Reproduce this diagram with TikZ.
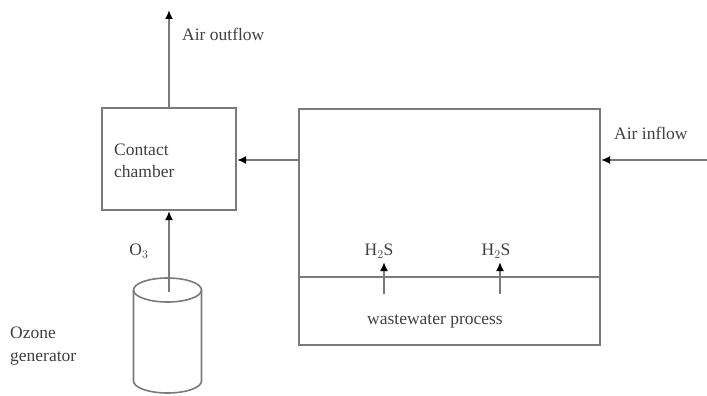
\documentclass[tikz,border=0pt]{standalone}
\usepackage{fontspec}
\setmainfont{Liberation Serif}
\usetikzlibrary{arrows.meta}
\definecolor{linegray}{HTML}{7A7A7A}
\tikzset{
  boxstyle/.style={draw=linegray, line width=2pt, inner sep=0pt},
  flow/.style={draw=linegray, line width=2pt, -{Latex[length=9pt,width=8pt,black]}},
  lbl/.style={font=\fontsize{17.5}{22.5}\selectfont, inner sep=0pt, text=black!75},
}
\begin{document}
\begin{tikzpicture}[x=1pt,y=-1pt]
\useasboundingbox (0,0) rectangle (707,396);
% contact chamber
\node[boxstyle, minimum width=134pt, minimum height=102pt] (cc) at (169,159) {};
\node[lbl, align=left, anchor=west] (cctext) at (114,161) {Contact\\chamber};
% big box
\node[boxstyle, minimum width=301pt, minimum height=236pt] (big) at (449.5,226.5) {};
\coordinate (wl) at (299,277);
\coordinate (wr) at (600,277);
\draw[draw=linegray, line width=2pt] (wl) -- (wr);
\node[lbl] (ww) at (435,321) {wastewater process};
% air outflow
\coordinate (outtop) at (169,10);
\draw[flow] (cc.north) -- (outtop);
\node[lbl, anchor=west] (aout) at (182,34) {Air outflow};
% big box to contact chamber
\draw[flow] (big.west |- 0,160) -- (cc.east |- 0,160);
% air inflow
\coordinate (inr) at (707,160);
\draw[flow] (inr) -- (big.east |- 0,160);
\node[lbl, anchor=west] (ain) at (614,133) {Air inflow};
% H2S
\coordinate (h1s) at (384,294);
\coordinate (h1e) at (384,262);
\coordinate (h2s) at (500,294);
\coordinate (h2e) at (500,262);
\draw[flow] (h1s) -- (h1e);
\draw[flow] (h2s) -- (h2e);
\node[lbl] (h1) at (379,251) {H$_2$S};
\node[lbl] (h2) at (496,251) {H$_2$S};
% cylinder
\draw[draw=linegray, line width=1.6pt] (167.5,290) ellipse [x radius=34pt, y radius=12pt];
\draw[draw=linegray, line width=1.6pt] (133.5,290) -- (133.5,381) arc[start angle=180, end angle=360, x radius=34pt, y radius=12pt] -- (201.5,290);
\coordinate (cyl) at (169,292);
\draw[flow] (cyl) -- (cc.south);
\node[lbl] (o3) at (139,251) {O$_3$};
\node[lbl, align=left, anchor=west] (og) at (10,346) {Ozone\\generator};
\end{tikzpicture}
\end{document}
